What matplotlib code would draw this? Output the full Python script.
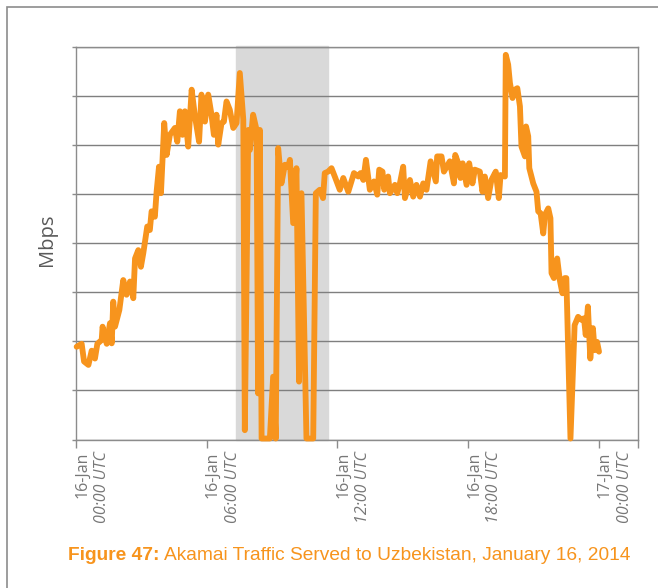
import matplotlib
matplotlib.use("Agg")
import matplotlib.pyplot as plt
import matplotlib.transforms as mtransforms
from matplotlib.patches import Rectangle

# traffic, hours after 16-Jan 00:00 UTC, value in gridline units
hours = [0.03, 0.26, 0.37, 0.57, 0.72, 0.87, 0.98, 1.18, 1.22, 1.41, 1.56, 1.64, 1.71, 1.79,
         1.99, 2.17, 2.32, 2.48, 2.63, 2.71, 2.86, 2.98, 3.09, 3.27, 3.39, 3.47, 3.62, 3.70,
         3.81, 3.90, 4.05, 4.16, 4.31, 4.54, 4.65, 4.77, 4.89, 5.00, 5.15, 5.31, 5.46, 5.65,
         5.76, 5.92, 6.07, 6.22, 6.33, 6.45, 6.53, 6.68, 6.79, 6.91, 7.06, 7.22, 7.37, 7.52,
         7.68, 7.75, 7.91, 7.98, 8.13, 8.29, 8.36, 8.44, 8.52, 8.90, 9.05, 9.17, 9.28, 9.43,
         9.59, 9.74, 9.82, 9.97, 10.12, 10.24, 10.35, 10.58, 10.89, 11.01, 11.19, 11.34, 11.42,
         11.57, 11.73, 11.88, 12.11, 12.27, 12.50, 12.76, 12.96, 13.06, 13.19, 13.31, 13.49,
         13.68, 13.83, 13.92, 14.07, 14.15, 14.33, 14.41, 14.64, 14.75, 14.87, 15.02, 15.10,
         15.33, 15.48, 15.63, 15.79, 15.94, 16.09, 16.28, 16.52, 16.58, 16.78, 16.89, 17.16,
         17.35, 17.41, 17.55, 17.65, 17.75, 17.93, 18.05, 18.20, 18.31, 18.54, 18.66, 18.77,
         18.92, 19.07, 19.27, 19.41, 19.49, 19.69, 19.73, 19.84, 19.92, 20.04, 20.15, 20.26,
         20.38, 20.45, 20.61, 20.66, 20.76, 20.81, 20.99, 21.14, 21.22, 21.33, 21.45, 21.53,
         21.68, 21.78, 21.83, 21.94, 22.09, 22.21, 22.33, 22.44, 22.51, 22.70, 22.89, 23.05,
         23.20, 23.32, 23.40, 23.50, 23.61, 23.73, 23.81, 23.92, 24.01]
mbps = [1.89, 1.95, 1.59, 1.52, 1.81, 1.65, 1.95, 2.03, 2.30, 1.95, 2.37, 1.96, 2.81, 2.30,
        2.64, 3.25, 2.95, 3.22, 2.88, 3.69, 3.86, 3.52, 3.80, 4.34, 4.27, 4.65, 4.54, 5.05,
        5.56, 5.02, 6.45, 5.80, 6.21, 6.35, 6.07, 6.69, 6.21, 6.69, 5.97, 7.13, 6.59, 6.07,
        7.03, 6.48, 7.03, 6.62, 6.21, 6.62, 6.01, 6.45, 6.48, 6.89, 6.72, 6.35, 6.45, 7.47,
        6.52, 0.19, 6.31, 5.90, 6.62, 6.31, 0.94, 6.31, 0.02, 0.02, 1.28, 0.02, 5.94, 5.22,
        5.60, 5.56, 5.70, 4.41, 5.53, 1.18, 5.02, 0.02, 0.02, 5.02, 5.09, 4.92, 5.43,
        5.46, 5.53, 5.36, 5.09, 5.33, 5.05, 5.43, 5.36, 5.43, 5.29, 5.70, 5.09,
        5.26, 4.99, 5.50, 5.46, 5.09, 5.36, 5.02, 5.19, 5.02, 5.22, 5.56, 4.92,
        5.29, 4.95, 5.19, 4.95, 5.22, 5.09, 5.67, 5.26, 5.77, 5.77, 5.46, 5.67,
        5.22, 5.80, 5.63, 5.33, 5.63, 5.19, 5.63, 5.22, 5.50, 5.46, 5.05, 5.36,
        4.92, 5.29, 5.46, 4.92, 5.39, 5.36, 7.84, 7.64, 7.27, 6.96, 7.13, 7.16,
        6.79, 5.97, 5.77, 6.38, 6.18, 5.53, 5.22, 5.05, 4.65, 4.61, 4.20, 4.58,
        4.71, 4.51, 3.39, 3.29, 3.69, 3.25, 2.98, 3.29, 3.29, 0.02, 2.33, 2.50,
        2.44, 2.47, 2.13, 2.71, 1.65, 2.27, 1.82, 1.99, 1.79]

shade_start = 7.34
shade_end = 11.55
tick_hours = [0, 6, 12, 18, 24]
tick_days = ["16-Jan", "16-Jan", "16-Jan", "16-Jan", "17-Jan"]
tick_times = ["00:00 UTC", "06:00 UTC", "12:00 UTC", "18:00 UTC", "00:00 UTC"]

orange = "#F7941D"
grey = "#7F7F7F"

fig = plt.figure(figsize=(6.58, 5.88), dpi=100)

# outer frame (only left and top edges fall inside the picture)
fig.patches.append(Rectangle((7 / 658, -0.1), 1.2, 1 - 7 / 588 + 0.1,
                             transform=fig.transFigure, fill=False,
                             edgecolor="#8C8C8C", linewidth=1.2))

ax = fig.add_axes([76 / 658, 1 - 439.5 / 588, 562 / 658, 392.5 / 588])
ax.axvspan(shade_start, shade_end, ymin=0, ymax=1.003, color="#D9D9D9", zorder=0, clip_on=False)
ax.plot(hours, mbps, color=orange, linewidth=4.2, solid_joinstyle="round",
        solid_capstyle="round", zorder=3, clip_on=False)

ax.set_xlim(0, 25.8)
ax.set_ylim(0, 8)
ax.set_yticks(range(0, 9))
ax.set_yticklabels([])
ax.set_xticks(tick_hours)
ax.set_xticklabels([])
ax.grid(axis="y", color=grey, linewidth=1.0, zorder=1)
ax.set_axisbelow(True)
for s in ax.spines.values():
    s.set_color("#8C8C8C")
    s.set_linewidth(1.0)
ax.tick_params(axis="x", length=6, color="#8C8C8C", width=1)
ax.tick_params(axis="y", length=3, color="#8C8C8C", width=1)
ax.set_xticks([25.8], minor=True)
ax.tick_params(axis="x", which="minor", length=6, color="#8C8C8C", width=1)

lbl_font = ["Open Sans", "DejaVu Sans"]
trans = mtransforms.blended_transform_factory(ax.transData, ax.transAxes)
for h, d, t in zip(tick_hours, tick_days, tick_times):
    tr1 = mtransforms.offset_copy(trans, fig=fig, x=6, y=-12, units="dots")
    tr2 = mtransforms.offset_copy(trans, fig=fig, x=26, y=-12, units="dots")
    ax.text(h, 0, d, transform=tr1, rotation=90, ha="center", va="top",
            fontsize=11.5, color="#777777", family=lbl_font)
    ax.text(h, 0, t, transform=tr2, rotation=90, ha="center", va="top",
            fontsize=11.5, color="#777777", family=lbl_font, style="italic")

fig.text(47 / 658, 1 - 240 / 588, "Mbps", rotation=90, ha="center", va="center",
         fontsize=14.5, color="#595959", family=lbl_font)

# caption: bold lead-in plus regular text, sized to span x 68..632
cap_font = ["Liberation Sans", "DejaVu Sans"]
cap_y = 1 - 556 / 588
size = 14
for _ in range(3):
    for t in list(fig.texts):
        if t.get_gid() == "cap":
            t.remove()
    t1 = fig.text(68 / 658, cap_y, "Figure 47:", ha="left", va="center", gid="cap",
                  fontsize=size, color=orange, family=cap_font, weight="bold")
    fig.canvas.draw()
    bb = t1.get_window_extent()
    t2 = fig.text((bb.x1 + 4) / 658, cap_y,
                  "Akamai Traffic Served to Uzbekistan, January 16, 2014", gid="cap",
                  ha="left", va="center", fontsize=size, color=orange, family=cap_font)
    fig.canvas.draw()
    right = t2.get_window_extent().x1
    size = size * (632 - 68) / (right - 68)

fig.savefig("out.png", dpi=100)
